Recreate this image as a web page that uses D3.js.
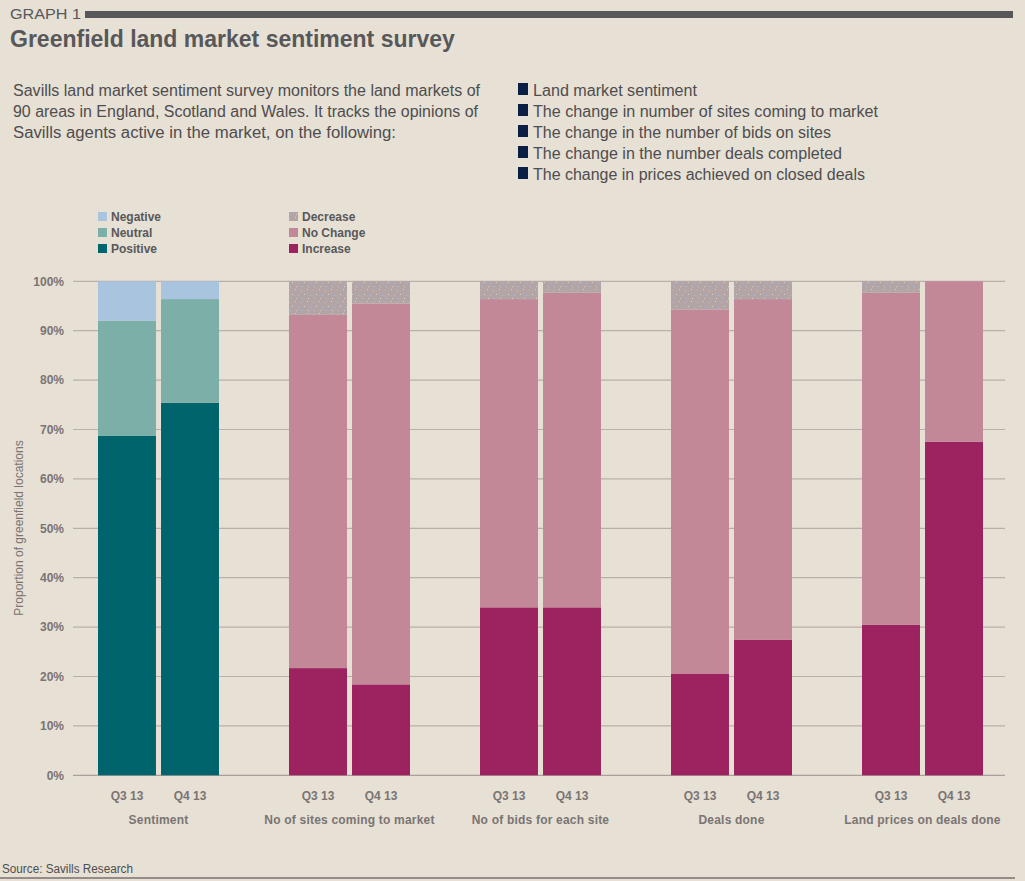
<!DOCTYPE html>
<html>
<head>
<meta charset="utf-8">
<script src="https://cdn.jsdelivr.net/npm/d3@7"></script>
<style>
  html, body { margin: 0; padding: 0; background: #e6e0d5; }
  svg { display: block; font-family: "Liberation Sans", Arial, sans-serif; }
</style>
</head>
<body>
<svg id="chart" width="1025" height="881"></svg>
<script>
// ---------- Data ----------
const groups = ["Sentiment", "No of sites coming to market", "No of bids for each site", "Deals done", "Land prices on deals done"];
const periods = ["Q3 13", "Q4 13"];
const yTicks = [0, 10, 20, 30, 40, 50, 60, 70, 80, 90, 100];

// Sentiment group (Q3 13, Q4 13)
const sentimentPositive = [68.7, 75.4];
const sentimentNeutral  = [23.3, 21.0];
const sentimentNegative = [8.0, 3.6];

// Change groups (sites, bids, deals, prices) each [Q3 13, Q4 13]
const changeGroups = ["No of sites coming to market", "No of bids for each site", "Deals done", "Land prices on deals done"];
const increase = [[21.7, 18.4], [34.0, 34.0], [20.6, 27.4], [30.5, 67.5]];
const noChange = [[71.5, 77.1], [62.4, 63.7], [73.7, 69.0], [67.2, 32.5]];
const decrease = [[6.8, 4.5], [3.6, 2.3], [5.7, 3.6], [2.3, 0.0]];

const legendLeft  = ["Negative", "Neutral", "Positive"];
const legendRight = ["Decrease", "No Change", "Increase"];

const descText = [
  "Savills land market sentiment survey monitors the land markets of",
  "90 areas in England, Scotland and Wales. It tracks the opinions of",
  "Savills agents active in the market, on the following:"
];
const bulletItems = [
  "Land market sentiment",
  "The change in number of sites coming to market",
  "The change in the number of bids on sites",
  "The change in the number deals completed",
  "The change in prices achieved on closed deals"
];

// ---------- Styles ----------
const colors = {
  Negative: "#a9c4df", Neutral: "#7cafa7", Positive: "#00646c",
  Decrease: "#b3a5a6", "No Change": "#c38898", Increase: "#9c2360"
};
const textGray = "#7a7473";
const darkGray = "#58585a";

// ---------- Build rows ----------
const rows = [];
periods.forEach((p, i) => {
  rows.push({group: groups[0], period: p, Positive: sentimentPositive[i], Neutral: sentimentNeutral[i], Negative: sentimentNegative[i]});
});
changeGroups.forEach((g, gi) => {
  periods.forEach((p, i) => {
    rows.push({group: g, period: p, Increase: increase[gi][i], "No Change": noChange[gi][i], Decrease: decrease[gi][i]});
  });
});

const svg = d3.select("#chart");

// defs: dotted pattern for Decrease
const defs = svg.append("defs");
const pat = defs.append("pattern").attr("id", "dots").attr("patternUnits", "userSpaceOnUse")
  .attr("width", 12).attr("height", 12);
pat.append("rect").attr("width", 12).attr("height", 12).attr("fill", colors.Decrease);
[[1,2,"#a7c3e3"],[7,1,"#d9cfc6"],[4,6,"#d9cfc6"],[10,7,"#a7c3e3"],[2,10,"#a7c3e3"],[8,10,"#d9cfc6"]].forEach(d => {
  pat.append("rect").attr("x", d[0]).attr("y", d[1]).attr("width", 1).attr("height", 1).attr("fill", d[2]);
});

// ---------- Header ----------
svg.append("text").attr("x", 10).attr("y", 19).attr("font-size", 15).attr("fill", darkGray)
  .attr("textLength", 71).attr("lengthAdjust", "spacingAndGlyphs").text("GRAPH 1");
svg.append("rect").attr("x", 85).attr("y", 11).attr("width", 928).attr("height", 7).attr("fill", darkGray);
svg.append("text").attr("x", 10).attr("y", 47).attr("font-size", 23).attr("font-weight", "bold")
  .attr("fill", darkGray).text("Greenfield land market sentiment survey");

svg.append("g").selectAll("text").data(descText).join("text")
  .attr("x", 13).attr("y", (d, i) => 96 + i * 21)
  .attr("font-size", 16).attr("fill", "#4f4d4e")
  .attr("textLength", (d, i) => [467, 465, 383][i]).attr("lengthAdjust", "spacingAndGlyphs")
  .text(d => d);

const bl = svg.append("g");
bl.selectAll("rect").data(bulletItems).join("rect")
  .attr("x", 518).attr("y", (d, i) => 83 + i * 21).attr("width", 10).attr("height", 12).attr("fill", "#0b1f45");
bl.selectAll("text").data(bulletItems).join("text")
  .attr("x", 533).attr("y", (d, i) => 96 + i * 21)
  .attr("font-size", 16).attr("fill", "#4f4d4e")
  .attr("textLength", (d, i) => [164, 345, 298, 309, 332][i]).attr("lengthAdjust", "spacingAndGlyphs")
  .text(d => d);

// ---------- Scales ----------
const y = d3.scaleLinear().domain([0, 100]).range([775.3, 281.3]);
const x0 = d3.scaleBand().domain(groups).range([63, 1018]).paddingInner(0).paddingOuter(0);
const x1 = d3.scaleBand().domain(periods).range([35, 156]).paddingInner(0.08).paddingOuter(0);

// gridlines
const gridG = svg.append("g");
gridG.selectAll("line").data(yTicks).join("line")
  .attr("x1", 73).attr("x2", 1005)
  .attr("y1", d => y(d)).attr("y2", d => y(d))
  .attr("stroke", d => d === 0 ? "#a9a09d" : "#b9b0aa").attr("stroke-width", 1.2);

// y axis labels
const yAxis = d3.axisLeft(y).tickValues(yTicks).tickFormat(d => d + "%").tickSize(0).tickPadding(0);
const yg = svg.append("g").attr("transform", "translate(64,0)").call(yAxis);
yg.select(".domain").remove();
yg.selectAll("text").attr("font-size", 12).attr("font-weight", "bold").attr("fill", textGray)
  .attr("font-family", "Liberation Sans, Arial, sans-serif");

svg.append("text").attr("transform", "translate(23,528) rotate(-90)")
  .attr("text-anchor", "middle").attr("font-size", 12).attr("fill", textGray)
  .text("Proportion of greenfield locations");

// ---------- Bars ----------
const sentKeys = ["Positive", "Neutral", "Negative"];
const chgKeys = ["Increase", "No Change", "Decrease"];

function drawStack(data, keys) {
  const stack = d3.stack().keys(keys)(data);
  const g = svg.append("g");
  stack.forEach(layer => {
    g.append("g").selectAll("rect").data(layer).join("rect")
      .attr("x", d => x0(d.data.group) + x1(d.data.period))
      .attr("width", x1.bandwidth())
      .attr("y", d => y(d[1]))
      .attr("height", d => Math.max(0, y(d[0]) - y(d[1])))
      .attr("fill", layer.key === "Decrease" ? "url(#dots)" : colors[layer.key]);
  });
}
drawStack(rows.filter(r => r.group === groups[0]), sentKeys);
drawStack(rows.filter(r => r.group !== groups[0]), chgKeys);

// ---------- X labels ----------
const xl = svg.append("g");
groups.forEach(g => {
  periods.forEach(p => {
    xl.append("text").attr("x", x0(g) + x1(p) + x1.bandwidth() / 2).attr("y", 800)
      .attr("text-anchor", "middle").attr("font-size", 12).attr("font-weight", "bold").attr("fill", textGray)
      .text(p);
  });
  xl.append("text").attr("x", x0(g) + (x1.range()[0] + x1.range()[1]) / 2).attr("y", 824)
    .attr("text-anchor", "middle").attr("font-size", 12).attr("font-weight", "bold").attr("fill", textGray)
    .attr("letter-spacing", 0.2)
    .text(g);
});

// ---------- Legend ----------
function legend(items, lx) {
  const lg = svg.append("g");
  items.forEach((k, i) => {
    lg.append("rect").attr("x", lx).attr("y", 212 + i * 16).attr("width", 9).attr("height", 9)
      .attr("fill", k === "Decrease" ? "url(#dots)" : colors[k]);
    lg.append("text").attr("x", lx + 13).attr("y", 221 + i * 16).attr("font-size", 12)
      .attr("font-weight", "bold").attr("fill", darkGray).text(k);
  });
}
legend(legendLeft, 98);
legend(legendRight, 289);

// ---------- Source ----------
svg.append("text").attr("x", 2).attr("y", 873).attr("font-size", 12).attr("fill", "#4f4d4e")
  .attr("textLength", 131).attr("lengthAdjust", "spacingAndGlyphs").text("Source: Savills Research");
svg.append("line").attr("x1", 0).attr("x2", 1015).attr("y1", 878).attr("y2", 878)
  .attr("stroke", "#77706e").attr("stroke-width", 1.5);
</script>
</body>
</html>
